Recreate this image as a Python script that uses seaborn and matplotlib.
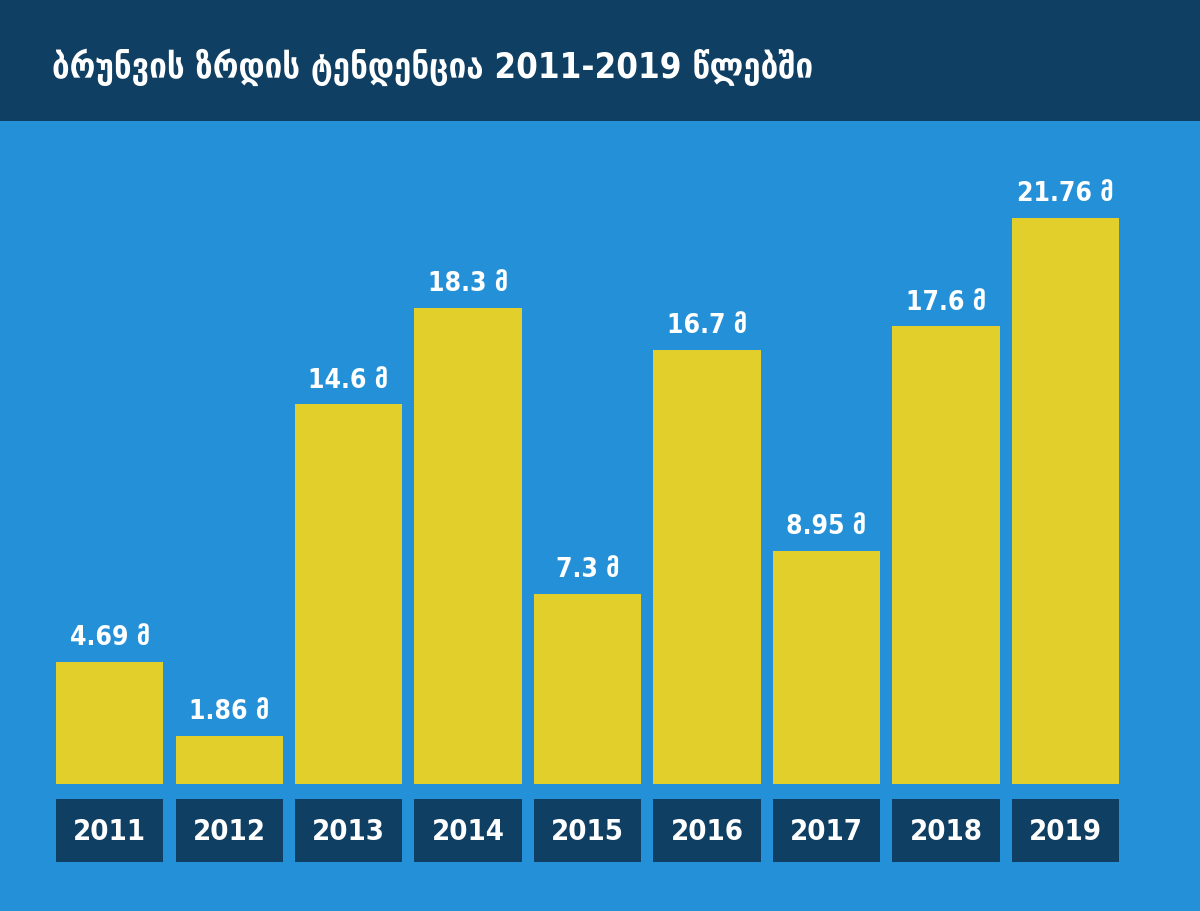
import numpy as np
import matplotlib
matplotlib.use("Agg")
import matplotlib.pyplot as plt
import seaborn as sns
from matplotlib.patches import Rectangle

years = ["2011", "2012", "2013", "2014", "2015", "2016", "2017", "2018", "2019"]
turnover = [4.69, 1.86, 14.6, 18.3, 7.3, 16.7, 8.95, 17.6, 21.76]
unit = "მ"
title = "ბრუნვის ზრდის ტენდენცია 2011-2019 წლებში"

bg_blue = "#2490d8"
navy = "#0f3f62"
yellow = "#e2cf2c"

sns.set_style("white")
plt.rcParams["font.family"] = ["DejaVu Sans"]
plt.rcParams["font.stretch"] = "condensed"

fig = plt.figure(figsize=(12, 9.12), dpi=100, facecolor=bg_blue)
# header band
fig.add_artist(Rectangle((0, 1 - 122 / 912), 1, 122 / 912, transform=fig.transFigure,
                         facecolor=navy, edgecolor="none", zorder=0))
fig.text(52 / 1200, 1 - 67 / 912, title, color="white", fontsize=25,
         fontweight="bold", va="center", ha="left")

ax = fig.add_axes([0.0416, 0.04605, 0.896, 0.8114])
ax.set_facecolor("none")
df = {"year": years, "value": turnover}
sns.barplot(x="year", y="value", data=df, color=yellow, saturation=1,
            width=0.897, ax=ax, linewidth=0)

x = np.arange(len(years))
# year boxes under the bars
ax.bar(x, 2.42, bottom=-3.0, width=0.897, color=navy, linewidth=0)
for xi, yr in zip(x, years):
    ax.text(xi, -1.79, yr, color="white", fontsize=21, fontweight="bold",
            ha="center", va="center")

for xi, v in zip(x, turnover):
    ax.annotate(f"{v:g} {unit}", (xi, v), xytext=(0, 8.5), textcoords="offset points",
                ha="center", va="bottom", color="white", fontsize=19, fontweight="bold")

ax.set_xlim(-0.5, len(years) - 0.5)
ax.set_ylim(-3.27, 25.19)
ax.axis("off")

fig.savefig("out.png", dpi=100, facecolor=bg_blue)
